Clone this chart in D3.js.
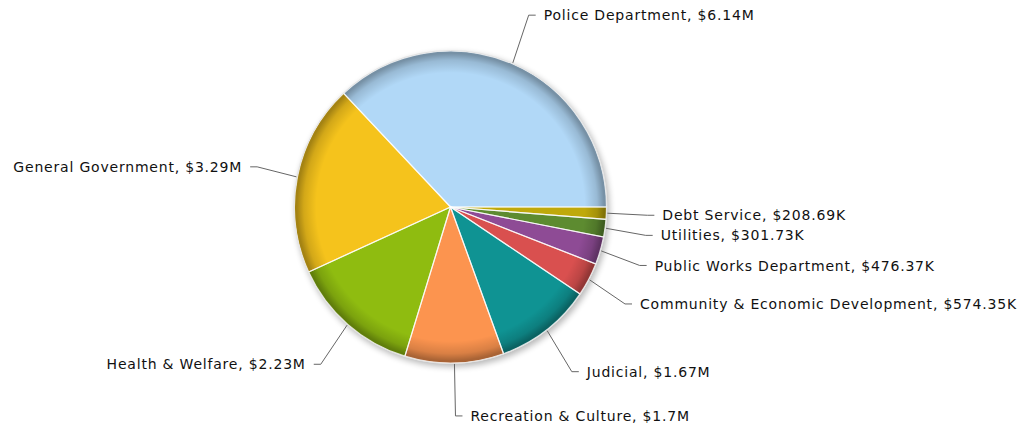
<!DOCTYPE html>
<html>
<head>
<meta charset="utf-8">
<script src="https://cdn.jsdelivr.net/npm/d3@7"></script>
<style>
  html, body { margin: 0; padding: 0; background: #fff; }
  svg { display: block; }
  .lbl { font-family: "DejaVu Sans", Verdana, sans-serif; font-size: 14px; letter-spacing: 0.8px; fill: #111; }
</style>
</head>
<body>
<svg id="chart" width="1027" height="429"></svg>
<script>
// Spending by department (USD), listed clockwise from 3 o'clock
const departments = [
  "Debt Service", "Utilities", "Public Works Department",
  "Community & Economic Development", "Judicial", "Recreation & Culture",
  "Health & Welfare", "General Government", "Police Department"
];
const amounts = [208690, 301730, 476370, 574350, 1670000, 1700000, 2230000, 3290000, 6140000];
const amountLabels = ["$208.69K", "$301.73K", "$476.37K", "$574.35K", "$1.67M", "$1.7M", "$2.23M", "$3.29M", "$6.14M"];
const sliceColors = ["#bfa90b", "#5d8b30", "#8e4b95", "#d9504f", "#0f9393", "#fc944f", "#8fbc10", "#f5c31c", "#b1d8f7"];

const svg = d3.select("#chart");
const cx = 450.5, cy = 207, r = 156;
const labelRx = 197, labelRy = 209;

const defs = svg.append("defs");
const blur = defs.append("filter").attr("id", "shadow")
  .attr("x", "-20%").attr("y", "-20%").attr("width", "140%").attr("height", "140%");
blur.append("feGaussianBlur").attr("stdDeviation", 3);

const rim = defs.append("radialGradient").attr("id", "rim")
  .attr("cx", "50%").attr("cy", "50%").attr("r", "50%");
rim.append("stop").attr("offset", "0.86").attr("stop-color", "#000").attr("stop-opacity", 0);
rim.append("stop").attr("offset", "0.94").attr("stop-color", "#000").attr("stop-opacity", 0.14);
rim.append("stop").attr("offset", "0.985").attr("stop-color", "#000").attr("stop-opacity", 0.33);
rim.append("stop").attr("offset", "1").attr("stop-color", "#000").attr("stop-opacity", 0.33);

const data = departments.map((d, i) => ({ name: d, value: amounts[i], text: amountLabels[i], color: sliceColors[i] }));

// Angles in d3 run clockwise from 12 o'clock; start at 3 o'clock
const pie = d3.pie().value(d => d.value).sort(null)
  .startAngle(Math.PI / 2).endAngle(Math.PI / 2 + 2 * Math.PI);
const arcs = pie(data);
const arc = d3.arc().innerRadius(0).outerRadius(r);

const g = svg.append("g").attr("transform", `translate(${cx},${cy})`);

// soft drop shadow beneath the pie
g.append("circle").attr("cx", 2).attr("cy", 3).attr("r", r + 1)
  .attr("fill", "#000").attr("opacity", 0.28).attr("filter", "url(#shadow)");

g.selectAll("path.fill").data(arcs).join("path")
  .attr("class", "fill").attr("d", arc).attr("fill", d => d.data.color);

// darkened rim
g.append("circle").attr("r", r).attr("fill", "url(#rim)");

g.selectAll("path.edge").data(arcs).join("path")
  .attr("class", "edge").attr("d", arc).attr("fill", "none")
  .attr("stroke", "#fff").attr("stroke-opacity", 0.75).attr("stroke-width", 1.2);

g.append("circle").attr("r", r + 0.5).attr("fill", "none")
  .attr("stroke", "#e4e4e4").attr("stroke-width", 1);

// leader lines and labels
const lines = svg.append("g");
const labels = svg.append("g");
arcs.forEach(a => {
  const mid = (a.startAngle + a.endAngle) / 2;
  const sx = Math.sin(mid), sy = -Math.cos(mid);
  const p0 = [cx + (r + 1) * sx, cy + (r + 1) * sy];
  const p1 = [cx + labelRx * sx, cy + labelRy * sy];
  const right = sx >= 0;
  const p2 = [p1[0] + (right ? 7 : -7), p1[1]];
  lines.append("polyline")
    .attr("points", [p0, p1, p2].map(p => p.join(",")).join(" "))
    .attr("fill", "none").attr("stroke", "#666").attr("stroke-width", 1);
  labels.append("text").attr("class", "lbl")
    .attr("x", p2[0] + (right ? 8 : -8)).attr("y", p1[1])
    .attr("dy", "0.36em")
    .attr("text-anchor", right ? "start" : "end")
    .text(`${a.data.name}, ${a.data.text}`);
});
</script>
</body>
</html>
